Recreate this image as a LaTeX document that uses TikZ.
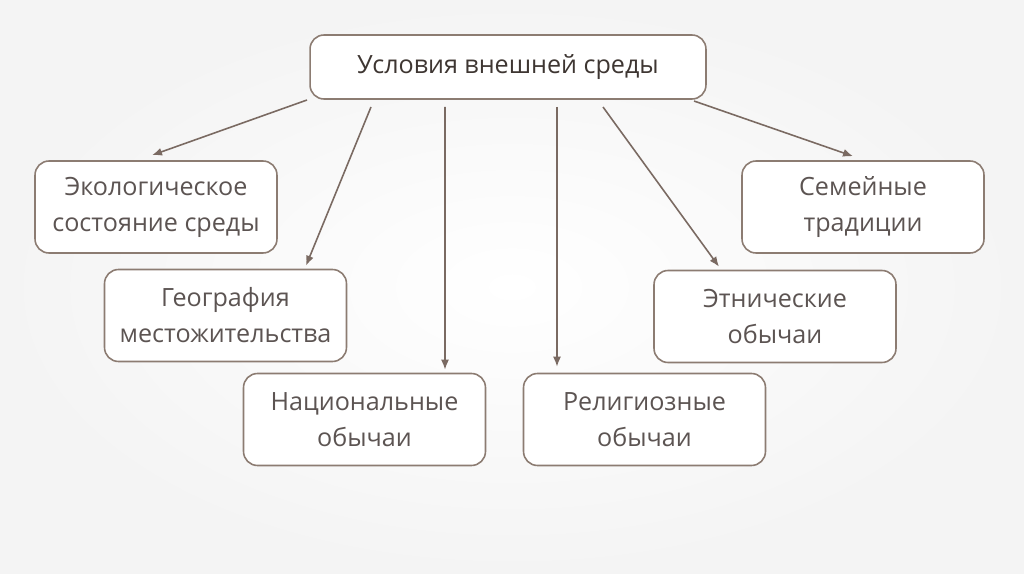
\documentclass[tikz,border=0pt]{standalone}
\usepackage{fontspec}
\setmainfont{Open Sans}
\usetikzlibrary{arrows.meta,calc}
\definecolor{boxLine}{RGB}{140,124,114}
\definecolor{arrLine}{RGB}{122,106,98}
\definecolor{txtGray}{RGB}{92,84,82}
\definecolor{txtDark}{RGB}{62,54,50}
\definecolor{bgGray}{RGB}{244,244,244}

\begin{document}
\begin{tikzpicture}[x=0.02cm, y=-0.02cm,
  box/.style={draw=boxLine, fill=white, line width=0.9pt, rounded corners=0.28cm,
    minimum width=4.84cm, minimum height=1.84cm, align=center, text=txtGray,
    font=\fontsize{14.3}{20.5}\selectfont},
  arr/.style={-{Latex[length=0.2cm, width=0.16cm]}, arrLine, line width=0.9pt}]
  % Background
  \shade[inner color=white, outer color=bgGray] (0,0) rectangle (1024,574);
  \useasboundingbox (0,0) rectangle (1024,574);
  % Boxes
  \node[box, minimum width=7.92cm, minimum height=1.28cm, text=txtDark] (env) at (508,67) {Условия внешней среды};
  \node[box] (eco) at (156,207) {Экологическое\\состояние среды};
  \node[box] (geo) at (225.5,315.5) {География\\местожительства};
  \node[box] (nat) at (364.5,419.5) {Национальные\\обычаи};
  \node[box] (rel) at (644.5,419.5) {Религиозные\\обычаи};
  \node[box] (eth) at (775,316.5) {Этнические\\обычаи};
  \node[box] (fam) at (863,207) {Семейные\\традиции};
  % Arrow starts under the title box
  \coordinate (s1) at (307,100);
  \coordinate (s2) at (371,107);
  \coordinate (s3) at (445,107);
  \coordinate (s4) at (557,107);
  \coordinate (s5) at (603,107);
  \coordinate (s6) at (694,101);
  % Arrows
  \draw[arr] (s1) -- ($(eco.north)+(-4,-5)$);
  \draw[arr] (s2) -- ($(geo.north)+(80.5,-3)$);
  \draw[arr] (s3) -- ($(nat.north)+(80.5,-3)$);
  \draw[arr] (s4) -- ($(rel.north)+(-87.5,-6)$);
  \draw[arr] (s5) -- ($(eth.north)+(-56,-3)$);
  \draw[arr] (s6) -- ($(fam.north)+(-10,-4)$);
\end{tikzpicture}
\end{document}
